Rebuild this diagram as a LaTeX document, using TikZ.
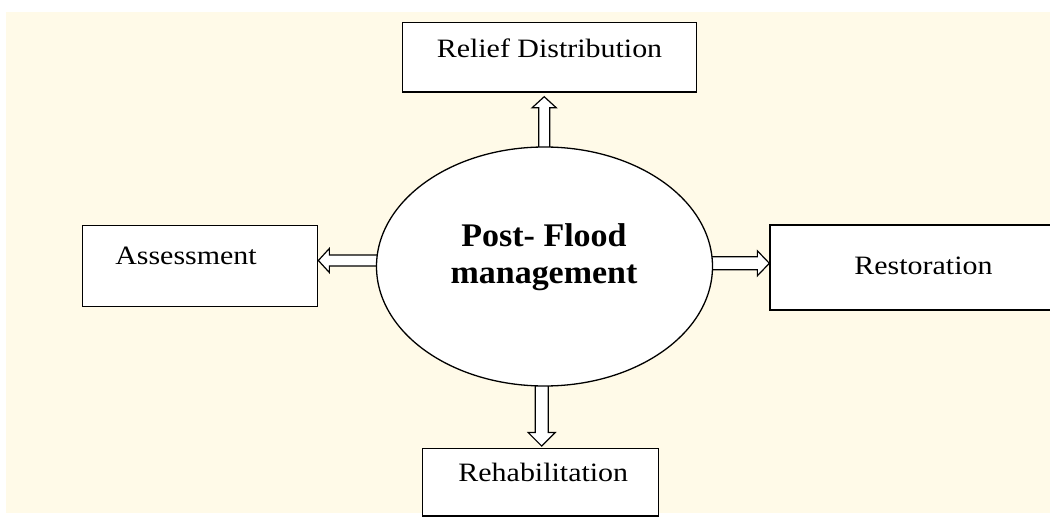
\documentclass[tikz,border=0pt]{standalone}
\usepackage{fontspec}
\setmainfont{Liberation Serif}
\newfontfamily\lblfont{Liberation Serif}[FakeStretch=1.13]
\newfontfamily\corefont{Liberation Serif}[FakeStretch=1.03]
\usetikzlibrary{shapes.geometric,calc}
\definecolor{paper}{RGB}{255,250,232}
\tikzset{
  box/.style={draw=black, line width=1.3pt, fill=white, inner sep=0pt},
  lbl/.style={anchor=base, inner sep=0pt, font=\lblfont\fontsize{26.5}{30}\selectfont},
  corelbl/.style={anchor=base, inner sep=0pt, font=\corefont\bfseries\fontsize{33}{37}\selectfont},
  blockarrow/.style={draw=black, line width=1.2pt, fill=white, line join=miter},
}
\begin{document}
\begin{tikzpicture}[x=1pt, y=-1pt]
\useasboundingbox (0,0) rectangle (1050,518);
\fill[paper] (6,12) rectangle (1050,513);

% outer boxes
\node[box, minimum width=294pt, minimum height=69.3pt] (relief) at (549.7,57.4) {};
\node[box, minimum width=235pt, minimum height=81pt] (assess) at (200.2,266.2) {};
\node[box, minimum width=292pt, minimum height=85pt] (restor) at (916,267.5) {};
\node[box, minimum width=235.6pt, minimum height=67.7pt] (rehab) at (540.5,482.2) {};

% box labels
\node[lbl] (reliefT) at (549.5,58) {Relief Distribution};
\node[lbl] (assessT) at (186,265) {Assessment};
\node[lbl] (restorT) at (923.5,275) {Restoration};
\node[lbl] (rehabT) at (543.3,481.7) {Rehabilitation};

% ellipse outline is needed for anchors before the arrows are drawn
\path node[ellipse, inner sep=0pt, minimum width=336pt, minimum height=239pt] (core) at (544.5,266.5) {};

% hollow block arrows from the ellipse to each box
\coordinate (upT) at ($(relief.south)+(-5.5,4)$);
\draw[blockarrow] ($(upT |- core.north)+(-5.5,4)$) -- ($(upT)+(-5.5,11)$) -- ($(upT)+(-12,11)$)
  -- (upT) -- ($(upT)+(12,11)$) -- ($(upT)+(5.5,11)$) -- ($(upT |- core.north)+(5.5,4)$);

\coordinate (lfT) at ($(assess.east)+(0,-5.7)$);
\draw[blockarrow] ($(lfT -| core.west)+(4,-5.5)$) -- ($(lfT)+(11,-5.5)$) -- ($(lfT)+(11,-12)$)
  -- (lfT) -- ($(lfT)+(11,12)$) -- ($(lfT)+(11,5.5)$) -- ($(lfT -| core.west)+(4,5.5)$);

\coordinate (rtT) at ($(restor.west)+(0,-4.2)$);
\draw[blockarrow] ($(rtT -| core.east)+(-4,-6.5)$) -- ($(rtT)+(-12,-6.5)$) -- ($(rtT)+(-12,-12.5)$)
  -- (rtT) -- ($(rtT)+(-12,12.5)$) -- ($(rtT)+(-12,6.5)$) -- ($(rtT -| core.east)+(-4,6.5)$);

\coordinate (dnT) at ($(rehab.north)+(1.2,-1.6)$);
\draw[blockarrow] ($(dnT |- core.south)+(-6.5,-4)$) -- ($(dnT)+(-6.5,-13.5)$) -- ($(dnT)+(-13.5,-13.5)$)
  -- (dnT) -- ($(dnT)+(13.5,-13.5)$) -- ($(dnT)+(6.5,-13.5)$) -- ($(dnT |- core.south)+(6.5,-4)$);

% central ellipse
\draw[line width=1.3pt, fill=white] (core.center) ellipse [x radius=168pt, y radius=119.5pt];
\node[corelbl] (coreA) at (544,247) {Post- Flood};
\node[corelbl] (coreB) at (544,284) {management};
\end{tikzpicture}
\end{document}
